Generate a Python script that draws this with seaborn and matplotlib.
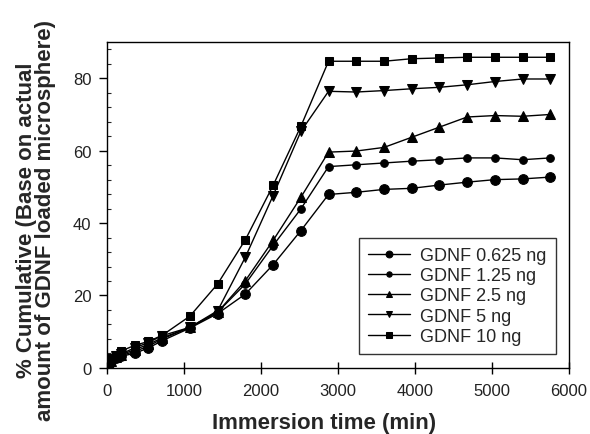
import matplotlib
matplotlib.use("Agg")
import matplotlib.pyplot as plt
import seaborn as sns
import pandas as pd
from matplotlib.ticker import MultipleLocator

times = [0, 30, 60, 120, 180, 360, 540, 720, 1080, 1440, 1800, 2160, 2520,
         2880, 3240, 3600, 3960, 4320, 4680, 5040, 5400, 5760]

gdnf_0625 = [0, 1.0, 1.8, 2.6, 3.2, 4.0, 5.5, 7.5, 11.0, 15.0, 20.4, 28.5, 37.9,
             47.9, 48.5, 49.3, 49.6, 50.5, 51.3, 52.0, 52.2, 52.7]
gdnf_125 = [0, 1.2, 2.0, 2.8, 3.4, 4.5, 6.0, 8.0, 11.2, 15.4, 23.2, 33.8, 43.9,
            55.6, 56.1, 56.6, 57.1, 57.5, 58.0, 58.0, 57.5, 58.0]
gdnf_25 = [0, 1.2, 2.0, 3.0, 3.6, 5.0, 6.5, 8.3, 11.2, 15.4, 24.1, 35.2, 47.1,
           59.6, 59.9, 60.9, 63.7, 66.5, 69.3, 69.7, 69.5, 70.0]
gdnf_5 = [0, 1.4, 2.2, 3.2, 3.8, 5.5, 7.0, 8.9, 11.2, 15.8, 30.6, 47.6, 65.3,
          76.4, 76.2, 76.6, 77.1, 77.5, 78.2, 79.1, 79.8, 79.8]
gdnf_10 = [0, 1.6, 2.6, 3.6, 4.6, 6.2, 7.3, 9.0, 14.3, 23.2, 35.4, 50.4, 66.7,
           84.7, 84.7, 84.7, 85.4, 85.6, 85.8, 85.8, 85.8, 85.8]

labels = ["GDNF 0.625 ng", "GDNF 1.25 ng", "GDNF 2.5 ng", "GDNF 5 ng", "GDNF 10 ng"]
series = [gdnf_0625, gdnf_125, gdnf_25, gdnf_5, gdnf_10]
markers = ["o", "o", "^", "v", "s"]
msizes = [7, 5.5, 6.5, 6.5, 6]

sns.set_style("white")
plt.rcParams["font.family"] = ["Liberation Sans", "DejaVu Sans"]

fig = plt.figure(figsize=(5.9, 4.35), dpi=100)
ax = fig.add_axes([0.181, 0.152, 0.783, 0.749])

for lab, vals, m, ms in zip(labels, series, markers, msizes):
    df = pd.DataFrame({"t": times, "v": vals})
    sns.lineplot(data=df, x="t", y="v", ax=ax, color="black", linewidth=1.0,
                 marker=m, markersize=ms, markeredgecolor="black",
                 markerfacecolor="black", label=lab)

ax.set_xlim(0, 6000)
ax.set_ylim(0, 90)
ax.set_xticks([0, 1000, 2000, 3000, 4000, 5000, 6000])
ax.set_yticks([0, 20, 40, 60, 80])
ax.yaxis.set_minor_locator(MultipleLocator(4))
ax.tick_params(axis="both", which="major", labelsize=12, width=1,
               color="black", labelcolor="#222222")
ax.tick_params(axis="x", which="major", direction="inout", length=8, pad=7,
               bottom=True)
ax.tick_params(axis="y", which="major", direction="out", length=6, pad=5,
               left=True)
ax.tick_params(axis="y", which="minor", direction="in", length=3, width=0.8,
               left=True)
for s in ax.spines.values():
    s.set_color("black")
    s.set_linewidth(1.0)

ax.set_xlabel("Immersion time (min)", fontsize=16, fontweight="bold")
ax.xaxis.set_label_coords(0.47, -0.135)
ax.set_ylabel("% Cumulative (Base on actual\namount of GDNF loaded microsphere)",
              fontsize=16, fontweight="bold", linespacing=0.9)
ax.yaxis.set_label_coords(-0.11, 0.455)

leg = ax.legend(loc="lower right", bbox_to_anchor=(0.972, 0.043),
                borderaxespad=0, fontsize=13, frameon=True, fancybox=False,
                edgecolor="black", handlelength=2.3, labelspacing=0.18,
                borderpad=0.5, markerscale=0.7, handletextpad=0.6)
leg.get_frame().set_linewidth(1.0)

fig.savefig("out.png", dpi=100)
